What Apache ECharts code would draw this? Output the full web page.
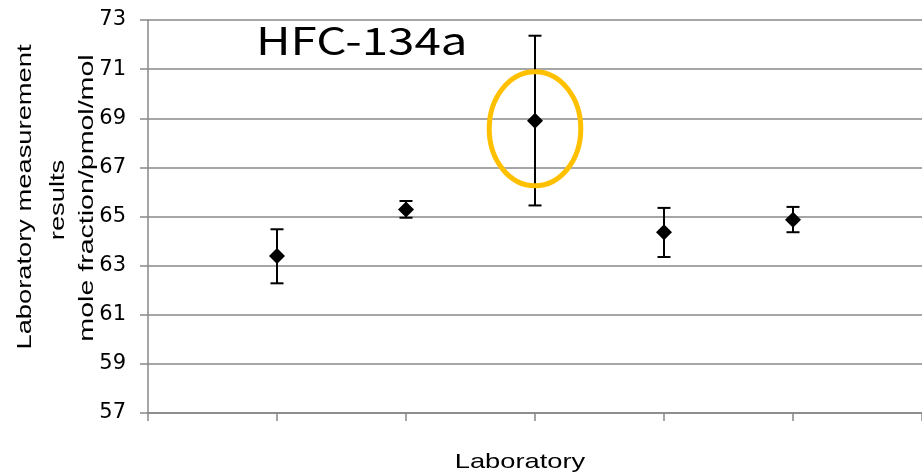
<!DOCTYPE html>
<html><head><meta charset="utf-8">
<script src="https://cdn.jsdelivr.net/npm/echarts@6/dist/echarts.min.js"></script>
<style>html,body{margin:0;padding:0;background:#fff}#c{width:922px;height:474px}</style>
</head><body><div id="c"></div>
<script>
const labs = [1, 2, 3, 4, 5];
const means = [63.39, 65.29, 68.90, 64.36, 64.87];
const lows  = [62.28, 64.95, 65.45, 63.35, 64.36];
const highs = [64.48, 65.63, 72.36, 65.35, 65.39];
const highlight = [[3, 68.57, 0.355, 2.32]]; // [lab, centre, half-width(labs), half-height(value)]
const yMin = 57, yMax = 73, yStep = 2;
const titleText = 'HFC-134a';
const yName = ['Laboratory measurement', 'results', 'mole fraction/pmol/mol'];
const xName = 'Laboratory';

const chart = echarts.init(document.getElementById('c'), null, {renderer: 'canvas'});
const gridCol = '#888888';
const font = 'Liberation Sans';
const nameStyle = (t) => ({text: t, fontSize: 21, fontFamily: font, fill: '#000', align: 'center', verticalAlign: 'middle'});
chart.setOption({
  animation: false,
  grid: {left: 148, top: 20, bottom: 61, right: -3, containLabel: false},
  xAxis: {
    type: 'value', min: 0, max: 6, interval: 1,
    axisLine: {lineStyle: {color: gridCol, width: 1.5}},
    axisTick: {show: true, length: 8, lineStyle: {color: gridCol, width: 1.5}},
    axisLabel: {show: false},
    splitLine: {show: false}
  },
  yAxis: {
    type: 'value', min: yMin, max: yMax, interval: yStep,
    axisLine: {show: true, lineStyle: {color: gridCol, width: 1.5}},
    axisTick: {show: true, length: 8, lineStyle: {color: gridCol, width: 1.5}},
    axisLabel: {color: '#000', fontSize: 21, fontFamily: 'DejaVu Sans', margin: 22},
    splitLine: {show: true, lineStyle: {color: gridCol, width: 1.5}}
  },
  graphic: [
    {type: 'text', x: 256, y: 22, scaleX: 1.25, style: {text: titleText, fontSize: 38, fontFamily: 'Noto Sans CJK KR', fill: '#000'}},
    {type: 'text', x: 25, y: 197, rotation: Math.PI / 2, scaleX: 1.3, style: nameStyle(yName[0])},
    {type: 'text', x: 58, y: 200, rotation: Math.PI / 2, scaleX: 1.3, style: nameStyle(yName[1])},
    {type: 'text', x: 87, y: 198, rotation: Math.PI / 2, scaleX: 1.36, style: nameStyle(yName[2])},
    {type: 'text', x: 520, y: 462, scaleX: 1.3, style: nameStyle(xName)}
  ],
  series: [
    {
      type: 'custom', z: 3,
      data: labs.map((l, i) => [l, lows[i], highs[i]]),
      renderItem: (params, api) => {
        const x = api.value(0);
        const a = api.coord([x, api.value(1)]);
        const b = api.coord([x, api.value(2)]);
        const w = 6.5;
        const st = {stroke: '#000', lineWidth: 2};
        return {type: 'group', children: [
          {type: 'line', shape: {x1: a[0], y1: a[1], x2: b[0], y2: b[1]}, style: st},
          {type: 'line', shape: {x1: a[0] - w, y1: a[1], x2: a[0] + w, y2: a[1]}, style: st},
          {type: 'line', shape: {x1: b[0] - w, y1: b[1], x2: b[0] + w, y2: b[1]}, style: st}
        ]};
      }
    },
    {
      type: 'scatter', z: 4, symbol: 'diamond', symbolSize: [16, 16],
      itemStyle: {color: '#000', opacity: 1},
      data: labs.map((l, i) => [l, means[i]])
    },
    {
      type: 'custom', z: 5,
      data: highlight,
      renderItem: (params, api) => {
        const c = api.coord([api.value(0), api.value(1)]);
        const s = api.size([api.value(2), api.value(3)]);
        return {type: 'ellipse', shape: {cx: c[0], cy: c[1], rx: s[0], ry: s[1]},
          style: {fill: 'none', stroke: '#FFC000', lineWidth: 5}};
      }
    }
  ]
});
</script></body></html>
